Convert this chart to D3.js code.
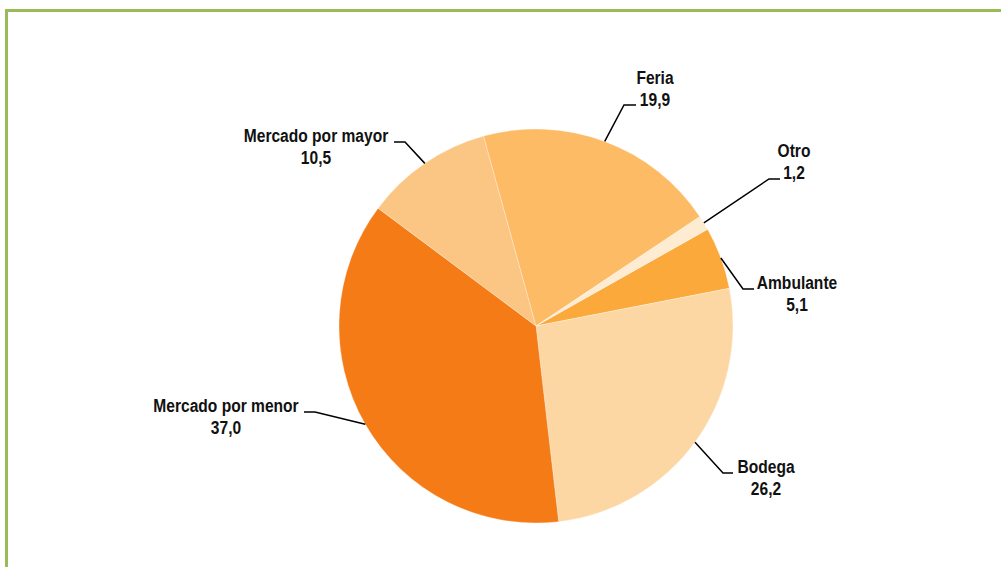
<!DOCTYPE html>
<meta charset="utf-8">
<style>
body { margin: 0; background: #fff; }
text {
  font-family: "Liberation Sans", Arial, sans-serif;
  font-weight: bold;
  font-size: 19px;
  fill: #111;
}
.leader { fill: none; stroke: #000; stroke-width: 1.5px; }
</style>
<svg width="1001" height="567"></svg>
<script src="https://d3js.org/d3.v7.min.js"></script>
<script>

// data, clockwise from Ambulante
var categories = ["Ambulante", "Bodega", "Mercado por menor", "Mercado por mayor", "Feria", "Otro"];
var values = [5.1, 26.2, 37.0, 10.5, 19.9, 1.2];
var value_labels = ["5,1", "26,2", "37,0", "10,5", "19,9", "1,2"];

var slice_colours = ["#fba93b", "#fcd7a3", "#f47b16", "#fbc583", "#fdbb66", "#fdebd2"];

// label layout: text centre x, first baseline y, leader elbow x/y, leader end x
var label_layout = {
  "Ambulante":         { tx: 797, ty: 289, ex: 743, ey: 289, hx: 754 },
  "Bodega":            { tx: 766, ty: 473, ex: 723, ey: 473, hx: 733 },
  "Mercado por menor": { tx: 226, ty: 412, ex: 315, ey: 412, hx: 304 },
  "Mercado por mayor": { tx: 316, ty: 142, ex: 405, ey: 142, hx: 394 },
  "Feria":             { tx: 655, ty: 84,  ex: 624, ey: 105, hx: 636 },
  "Otro":              { tx: 794, ty: 157, ex: 769, ey: 179, hx: 780 }
};

// the original uses a narrow face, squeeze the regular one
var narrow = 0.82;

var svg = d3.select("svg");

var cx = 536, cy = 326, radius = 197;
var start_angle = 60.6 * Math.PI / 180;

// frame
svg.append("rect")
   .attr("x", 6.5)
   .attr("y", 10.5)
   .attr("width", 1000)
   .attr("height", 600)
   .style("fill", "none")
   .style("stroke", "#9bbb59")
   .style("stroke-width", 3);

var pie = d3.pie()
    .sort(null)
    .value(function(d) { return d.value; })
    .startAngle(start_angle)
    .endAngle(start_angle + 2 * Math.PI);

var arc = d3.arc().innerRadius(0).outerRadius(radius);

var data = categories.map(function(c, i) {
  return { name: c, value: values[i], label: value_labels[i], colour: slice_colours[i] };
});

var g = svg.append("g").attr("transform", "translate(" + cx + "," + cy + ")");

g.selectAll("path")
  .data(pie(data))
  .enter().append("path")
  .attr("d", arc)
  .style("fill", function(d) { return d.data.colour; })
  .style("stroke", "#fff")
  .style("stroke-width", 0.5)
  .style("stroke-opacity", 0.6);

// leaders and labels
pie(data).forEach(function(d) {
  var lay = label_layout[d.data.name];
  var mid = (d.startAngle + d.endAngle) / 2;
  var px = cx + radius * Math.sin(mid);
  var py = cy - radius * Math.cos(mid);

  svg.append("polyline")
     .attr("class", "leader")
     .attr("points", [[px, py], [lay.ex, lay.ey], [lay.hx, lay.ey]].join(" "));

  var t = svg.append("text")
     .attr("transform", "translate(" + lay.tx + "," + lay.ty + ") scale(" + narrow + ",1)")
     .attr("text-anchor", "middle");
  t.append("tspan").attr("x", 0).attr("y", 0).text(d.data.name);
  t.append("tspan").attr("x", 0).attr("dy", 22).text(d.data.label);
});

</script>
